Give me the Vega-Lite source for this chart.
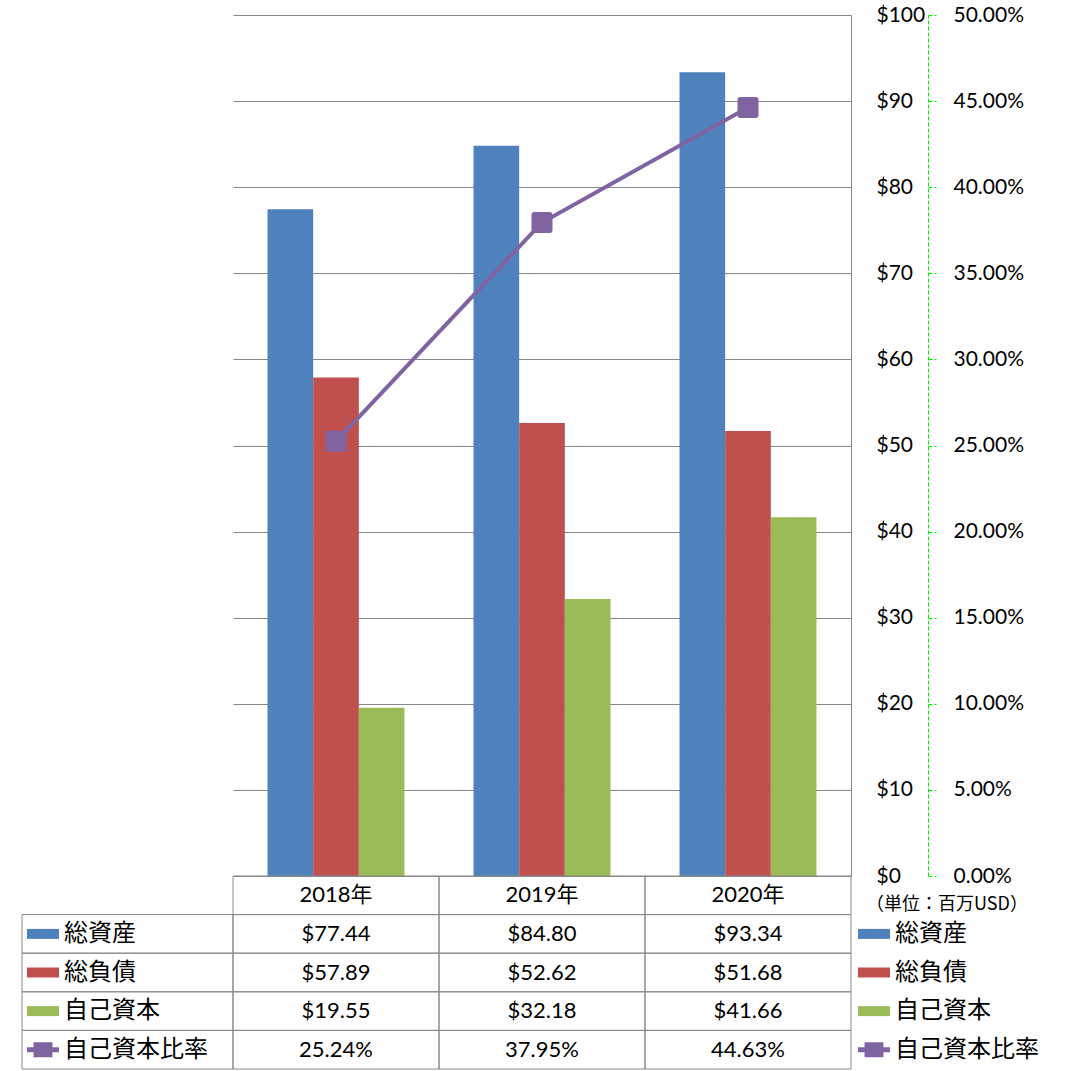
{
  "$schema": "https://vega.github.io/schema/vega-lite/v6.json",
  "padding": {"left": 21, "top": 4, "right": 0, "bottom": 0},
  "background": "white",
  "config": {"view": {"stroke": null}, "font": "Lato"},
  "datasets": {
    "d": [
      {"year": "2018年", "series": "総資産", "value": 77.44},
      {"year": "2018年", "series": "総負債", "value": 57.89},
      {"year": "2018年", "series": "自己資本", "value": 19.55},
      {"year": "2018年", "series": "自己資本比率", "value": 0.2524},
      {"year": "2019年", "series": "総資産", "value": 84.80},
      {"year": "2019年", "series": "総負債", "value": 52.62},
      {"year": "2019年", "series": "自己資本", "value": 32.18},
      {"year": "2019年", "series": "自己資本比率", "value": 0.3795},
      {"year": "2020年", "series": "総資産", "value": 93.34},
      {"year": "2020年", "series": "総負債", "value": 51.68},
      {"year": "2020年", "series": "自己資本", "value": 41.66},
      {"year": "2020年", "series": "自己資本比率", "value": 0.4463}
    ]
  },
  "columns": 3,
  "spacing": 0,
  "bounds": "flush",
  "concat": [
    {"width": 211, "height": 861, "data": {"values": []}, "mark": "point"},
    {
      "width": 618,
      "height": 861,
      "data": {"name": "d"},
      "encoding": {
        "x": {"field": "year", "type": "nominal", "axis": null, "scale": {"paddingInner": 0.335, "paddingOuter": 0.1675}}
      },
      "layer": [
        {
          "transform": [{"filter": "datum.series !== '自己資本比率'"}],
          "mark": {"type": "bar"},
          "encoding": {
            "xOffset": {"field": "series", "type": "nominal", "sort": ["総資産", "総負債", "自己資本"], "scale": {"paddingInner": 0, "paddingOuter": 0}},
            "y": {
              "field": "value", "type": "quantitative",
              "scale": {"domain": [0, 100], "nice": false},
              "axis": {
                "orient": "right", "values": [0, 10, 20, 30, 40, 50, 60, 70, 80, 90, 100], "format": "$.0f",
                "grid": true, "gridColor": "#868686", "gridWidth": 1,
                "domain": true, "domainColor": "#868686", "domainWidth": 1,
                "ticks": false, "tickSize": 0, "labelPadding": 25, "labelAlign": "left",
                "labelFont": "Lato", "labelFontSize": 21, "labelColor": "#000000", "title": null
              }
            },
            "color": {
              "field": "series", "type": "nominal",
              "scale": {"domain": ["総資産", "総負債", "自己資本", "自己資本比率"], "range": ["#4F81BD", "#C0504D", "#9BBB59", "#8064A2"]},
              "legend": null
            }
          }
        },
        {
          "transform": [{"filter": "datum.series === '自己資本比率'"}],
          "mark": {
            "type": "line", "color": "#8064A2", "strokeWidth": 4,
            "point": {"shape": "M-0.72,-1H0.72Q1,-1 1,-0.72V0.72Q1,1 0.72,1H-0.72Q-1,1 -1,0.72V-0.72Q-1,-1 -0.72,-1Z", "size": 441, "filled": true, "color": "#8064A2", "opacity": 1}
          },
          "encoding": {
            "y": {
              "field": "value", "type": "quantitative",
              "scale": {"domain": [0, 0.5], "nice": false},
              "axis": {
                "orient": "right", "offset": 77,
                "values": [0, 0.05, 0.1, 0.15, 0.2, 0.25, 0.3, 0.35, 0.4, 0.45, 0.5], "format": ".2%",
                "grid": false, "domainColor": "#00EE00", "domainDash": [4, 2], "domainWidth": 1,
                "tickColor": "#00EE00", "tickDash": [4, 2], "tickSize": 8, "tickWidth": 1,
                "labelPadding": 17, "labelAlign": "left",
                "labelFont": "Lato", "labelFontSize": 21, "labelColor": "#000000", "title": null
              }
            }
          }
        }
      ],
      "resolve": {"scale": {"y": "independent"}}
    },
    {"width": 217, "height": 861, "data": {"values": []}, "mark": "point"},
    {
      "width": 211,
      "height": 193,
      "data": {"name": "d"},
      "transform": [{"filter": "datum.year === '2018年'"}],
      "encoding": {
        "y": {"field": "series", "type": "nominal", "axis": null, "scale": {"domain": ["header", "総資産", "総負債", "自己資本", "自己資本比率"], "paddingInner": 0, "paddingOuter": 0}}
      },
      "layer": [
        {"mark": {"type": "rect", "fill": "transparent", "stroke": "#898989", "strokeWidth": 1}},
        {
          "transform": [{"filter": "datum.series !== '自己資本比率'"}],
          "mark": {"type": "point", "shape": "M-1,-0.3125H1V0.3125H-1Z", "size": 1024, "filled": true, "opacity": 1, "strokeWidth": 0, "xOffset": -84.5},
          "encoding": {
            "color": {
              "field": "series", "type": "nominal",
              "scale": {"domain": ["総資産", "総負債", "自己資本", "自己資本比率"], "range": ["#4F81BD", "#C0504D", "#9BBB59", "#8064A2"]},
              "legend": null
            }
          }
        },
        {
          "transform": [{"filter": "datum.series === '自己資本比率'"}],
          "mark": {"type": "point", "shape": "M-1,-0.16H-0.59V-0.47H0.59V-0.16H1V0.16H0.59V0.47H-0.59V0.16H-1Z", "size": 1024, "filled": true, "opacity": 1, "strokeWidth": 0, "color": "#8064A2", "xOffset": -84.5}
        },
        {
          "mark": {"type": "text", "align": "left", "dx": -63.5, "font": "Noto Sans CJK JP", "fontSize": 24, "color": "#000000"},
          "encoding": {"text": {"field": "series", "type": "nominal"}}
        }
      ]
    },
    {
      "width": 618,
      "height": 193,
      "data": {"name": "d"},
      "encoding": {
        "x": {"field": "year", "type": "nominal", "axis": null, "scale": {"paddingInner": 0, "paddingOuter": 0}}
      },
      "layer": [
        {
          "mark": {"type": "rect", "fill": "transparent", "stroke": "#898989", "strokeWidth": 1},
          "encoding": {"y": {"field": "series", "type": "nominal", "axis": null, "scale": {"domain": ["header", "総資産", "総負債", "自己資本", "自己資本比率"], "paddingInner": 0, "paddingOuter": 0}}}
        },
        {
          "transform": [{"filter": "datum.series === '総資産'"}],
          "mark": {"type": "rect", "fill": "transparent", "stroke": "#898989", "strokeWidth": 1},
          "encoding": {"y": {"datum": "header", "type": "nominal"}}
        },
        {
          "transform": [{"filter": "datum.series === '総資産'"}],
          "mark": {"type": "text", "font": "Lato, Noto Sans CJK JP", "fontSize": 22, "color": "#000000"},
          "encoding": {"y": {"datum": "header", "type": "nominal"}, "text": {"field": "year", "type": "nominal"}}
        },
        {
          "transform": [{"filter": "datum.series !== '自己資本比率'"}],
          "mark": {"type": "text", "font": "Lato", "fontSize": 22, "color": "#000000"},
          "encoding": {"y": {"field": "series", "type": "nominal"}, "text": {"field": "value", "type": "quantitative", "format": "$.2f"}}
        },
        {
          "transform": [{"filter": "datum.series === '自己資本比率'"}],
          "mark": {"type": "text", "font": "Lato", "fontSize": 22, "color": "#000000"},
          "encoding": {"y": {"field": "series", "type": "nominal"}, "text": {"field": "value", "type": "quantitative", "format": ".2%"}}
        }
      ]
    },
    {
      "width": 217,
      "height": 193,
      "data": {"name": "d"},
      "transform": [{"filter": "datum.year === '2018年'"}],
      "encoding": {
        "y": {"field": "series", "type": "nominal", "axis": null, "scale": {"domain": ["header", "総資産", "総負債", "自己資本", "自己資本比率"], "paddingInner": 0, "paddingOuter": 0}}
      },
      "layer": [
        {
          "transform": [{"filter": "datum.series !== '自己資本比率'"}],
          "mark": {"type": "point", "shape": "M-1,-0.3125H1V0.3125H-1Z", "size": 1024, "filled": true, "opacity": 1, "strokeWidth": 0, "xOffset": -85.5},
          "encoding": {
            "color": {
              "field": "series", "type": "nominal",
              "scale": {"domain": ["総資産", "総負債", "自己資本", "自己資本比率"], "range": ["#4F81BD", "#C0504D", "#9BBB59", "#8064A2"]},
              "legend": null
            }
          }
        },
        {
          "transform": [{"filter": "datum.series === '自己資本比率'"}],
          "mark": {"type": "point", "shape": "M-1,-0.16H-0.59V-0.47H0.59V-0.16H1V0.16H0.59V0.47H-0.59V0.16H-1Z", "size": 1024, "filled": true, "opacity": 1, "strokeWidth": 0, "color": "#8064A2", "xOffset": -85.5}
        },
        {
          "mark": {"type": "text", "align": "left", "dx": -64.5, "font": "Noto Sans CJK JP", "fontSize": 24, "color": "#000000"},
          "encoding": {"text": {"field": "series", "type": "nominal"}}
        },
        {
          "transform": [{"filter": "datum.series === '総資産'"}],
          "mark": {"type": "text", "text": "（単位：百万USD）", "dx": -12.5, "dy": 10, "font": "Noto Sans CJK JP", "fontSize": 18, "color": "#000000"},
          "encoding": {"y": {"datum": "header", "type": "nominal"}}
        }
      ]
    }
  ]
}
